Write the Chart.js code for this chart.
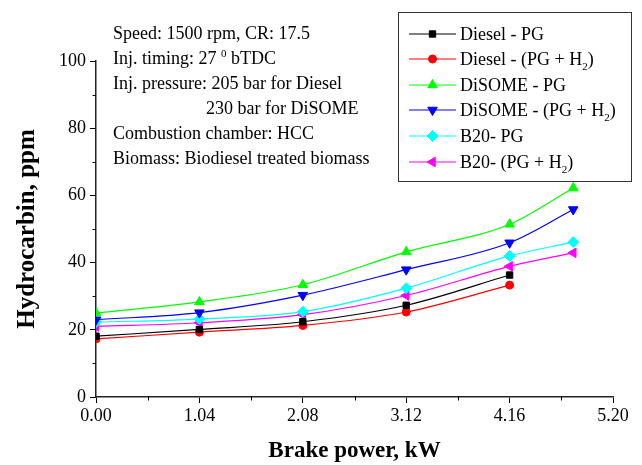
<!DOCTYPE html>
<html>
<head>
<meta charset="utf-8">
<script src="https://cdn.jsdelivr.net/npm/chart.js@4.4.1/dist/chart.umd.min.js"></script>
<style>
html,body{margin:0;padding:0;background:#fff;}
#wrap{position:relative;width:642px;height:465px;overflow:hidden;font-family:'Liberation Serif','Times New Roman',serif;color:#000;}
#c{position:absolute;left:0;top:0;}
#note{position:absolute;left:113px;top:21px;font-size:18px;line-height:25px;white-space:nowrap;}
#note .ind{padding-left:93px;}
#legend{position:absolute;left:398px;top:12px;width:234px;height:170px;border:1.5px solid #333;box-sizing:border-box;background:#fff;}
.row{position:absolute;left:0;height:26px;width:100%;}
.row canvas{position:absolute;left:9px;top:0;}
.row span{position:absolute;left:61px;top:0;font-size:18px;line-height:26px;white-space:nowrap;}
sub{font-size:11px;vertical-align:-5px;line-height:0;}
sup{font-size:11px;vertical-align:7px;line-height:0;}
</style>
</head>
<body>
<div id="wrap">
  <canvas id="c" width="642" height="465"></canvas>
  <div id="note">
    <div>Speed: 1500 rpm, CR: 17.5</div>
    <div>Inj. timing: 27 <sup>0</sup> bTDC</div>
    <div>Inj. pressure: 205 bar for Diesel</div>
    <div class="ind">230 bar for DiSOME</div>
    <div>Combustion chamber: HCC</div>
    <div>Biomass: Biodiesel treated biomass</div>
  </div>
  <div id="legend"></div>
</div>
<script>
// ---- data ----
const xValues = [0, 1.04, 2.08, 3.12, 4.16, 4.80];
const dieselPG   = [18.1, 20.1, 22.4, 27.3, 36.3];
const dieselH2   = [17.3, 19.3, 21.3, 25.3, 33.3];
const disomePG   = [25.0, 28.3, 33.4, 43.2, 51.4, 62.2];
const disomeH2   = [23.0, 25.1, 30.3, 37.9, 45.9, 55.8];
const b20PG      = [22.3, 23.2, 25.4, 32.4, 42.0, 46.1];
const b20H2      = [21.0, 22.1, 24.5, 30.2, 38.9, 42.9];
const seriesLabels = ['Diesel - PG', 'Diesel - (PG + H2)', 'DiSOME - PG', 'DiSOME - (PG + H2)', 'B20- PG', 'B20- (PG + H2)'];
const xTicks = [0, 1.04, 2.08, 3.12, 4.16, 5.20];
const xMinorTicks = [0.52, 1.56, 2.60, 3.64, 4.68];
const yTicks = [0, 20, 40, 60, 80, 100];
const yMinorTicks = [10, 30, 50, 70, 90];
const xTitle = 'Brake power, kW';
const yTitle = 'Hydrocarbin, ppm';

// ---- styles ----
const FONT = "'Liberation Serif', 'Times New Roman', serif";
const seriesValues = [dieselPG, dieselH2, disomePG, disomeH2, b20PG, b20H2];
const seriesStyles = [
  {color:'#000000', pointStyle:'rect', rotation:0, radius:4.5},
  {color:'#ff0000', pointStyle:'circle', rotation:0, radius:4},
  {color:'#00ff00', pointStyle:'triangle', rotation:0, radius:5.5},
  {color:'#0000ff', pointStyle:'triangle', rotation:180, radius:5.5},
  {color:'#00ffff', pointStyle:'rectRot', rotation:0, radius:5.5},
  {color:'#ff00ff', pointStyle:'triangle', rotation:270, radius:5.5}
];

const datasets = seriesValues.map((vals, i) => {
  const s = seriesStyles[i];
  return {
    label: seriesLabels[i],
    data: vals.map((v, j) => ({x: xValues[j], y: v})),
    borderColor: s.color,
    backgroundColor: s.color,
    borderWidth: 1.2,
    fill: false,
    clip: {left: 0, top: false, right: false, bottom: false},
    cubicInterpolationMode: 'monotone',
    pointStyle: s.pointStyle,
    rotation: s.rotation,
    pointRadius: s.radius,
    pointBackgroundColor: s.color,
    pointBorderColor: s.color,
    pointBorderWidth: 1
  };
});

const minorTicks = {
  id: 'minorTicks',
  afterDraw(chart) {
    const {ctx, scales: {x, y}} = chart;
    ctx.save();
    ctx.strokeStyle = '#000';
    ctx.lineWidth = 1;
    ctx.beginPath();
    xMinorTicks.forEach(v => {
      const px = Math.round(x.getPixelForValue(v)) + 0.5;
      ctx.moveTo(px, x.top); ctx.lineTo(px, x.top + 3.5);
    });
    yMinorTicks.forEach(v => {
      const py = Math.round(y.getPixelForValue(v)) + 0.5;
      ctx.moveTo(y.right, py); ctx.lineTo(y.right - 3.5, py);
    });
    ctx.stroke();
    ctx.restore();
  }
};

const chart = new Chart(document.getElementById('c'), {
  type: 'line',
  data: {datasets},
  options: {
    responsive: false,
    animation: false,
    devicePixelRatio: 1,
    layout: {padding: {left: 0, top: 61, right: 29, bottom: 0}},
    plugins: {legend: {display: false}, tooltip: {enabled: false}},
    scales: {
      x: {
        type: 'linear', min: 0, max: 5.2,
        afterFit(s) { s.height = 68; },
        afterBuildTicks(s) { s.ticks = xTicks.map(v => ({value: v})); },
        ticks: {font: {family: FONT, size: 18}, color: '#000', padding: 2, maxRotation: 0, autoSkip: false,
                callback: v => Number(v).toFixed(2)},
        grid: {drawOnChartArea: false, drawTicks: true, tickLength: 6, color: '#000', lineWidth: 1},
        border: {display: true, color: '#222', width: 1.5},
        title: {display: true, text: xTitle, color: '#000',
                font: {family: FONT, size: 23, weight: 'bold', lineHeight: 1.2}, padding: {top: 0, bottom: 0}}
      },
      y: {
        type: 'linear', min: 0, max: 100,
        afterFit(s) { s.width = 96; },
        afterBuildTicks(s) { s.ticks = yTicks.map(v => ({value: v})); },
        ticks: {font: {family: FONT, size: 18}, color: '#000', padding: 4},
        grid: {drawOnChartArea: false, drawTicks: true, tickLength: 6, color: '#000', lineWidth: 1},
        border: {display: true, color: '#222', width: 1.5},
        title: {display: true, text: yTitle, color: '#000',
                font: {family: FONT, size: 25, weight: 'bold', lineHeight: 1.2}, padding: {top: 13, bottom: 0}}
      }
    }
  },
  plugins: [minorTicks]
});

// ---- HTML legend built from datasets ----
const legendEl = document.getElementById('legend');
datasets.forEach((ds, i) => {
  const row = document.createElement('div');
  row.className = 'row';
  row.style.top = (20.5 + i * 25.6 - 13) + 'px';
  const cv = document.createElement('canvas');
  cv.width = 52; cv.height = 26;
  const ctx = cv.getContext('2d');
  ctx.strokeStyle = ds.borderColor; ctx.lineWidth = 1.2;
  ctx.beginPath(); ctx.moveTo(1, 13); ctx.lineTo(48, 13); ctx.stroke();
  ctx.fillStyle = ds.pointBackgroundColor; ctx.strokeStyle = ds.pointBorderColor; ctx.lineWidth = 1;
  Chart.helpers.drawPoint(ctx, {pointStyle: ds.pointStyle, rotation: ds.rotation, radius: ds.pointRadius, borderWidth: 1}, 24.5, 13);
  const sp = document.createElement('span');
  sp.innerHTML = ds.label.replace('H2', 'H<sub>2</sub>');
  row.appendChild(cv); row.appendChild(sp);
  legendEl.appendChild(row);
});
</script>
</body>
</html>
